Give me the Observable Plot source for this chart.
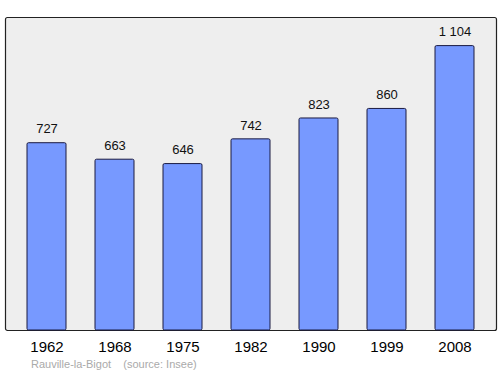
<!DOCTYPE html>
<html>
<head>
<meta charset="utf-8">
<script src="https://cdn.jsdelivr.net/npm/d3@7"></script>
<script src="https://cdn.jsdelivr.net/npm/@observablehq/plot@0.6"></script>
<style>
  html, body { margin: 0; padding: 0; background: #fff; }
  #chart { width: 500px; height: 374px; position: relative; font-family: "Liberation Sans", Arial, sans-serif; }
  #caption { position: absolute; left: 31px; top: 358px; font-size: 11px; color: #aaa; white-space: pre; }
</style>
</head>
<body>
<div id="chart"></div>
<script>
const years = ["1962", "1968", "1975", "1982", "1990", "1999", "2008"];
const population = [727, 663, 646, 742, 823, 860, 1104];
const caption = "Rauville-la-Bigot    (source: Insee)";

const data = years.map((y, i) => ({year: y, value: population[i]}));
const fmt = v => d3.format(",")(v).replace(/,/g, " ");

const plot = Plot.plot({
  width: 500,
  height: 356,
  marginTop: 17,
  marginBottom: 26,
  marginLeft: 5,
  marginRight: 4,
  style: {fontFamily: "Liberation Sans, Arial, sans-serif", background: "transparent", overflow: "visible"},
  x: {domain: years, paddingInner: 0.43, paddingOuter: 0.3, label: null},
  y: {domain: [0, 1215], axis: null},
  marks: [
    Plot.frame({fill: "#eeeeee", stroke: "#222", strokeWidth: 1.2, rx: 2}),
    Plot.barY(data, {x: "year", y: "value", fill: "#7799ff", stroke: "#1a1a40", strokeWidth: 1, rx: 1.5}),
    Plot.text(data, {x: "year", y: "value", text: d => fmt(d.value), dy: -14, fontSize: 13, fill: "#111"}),
    Plot.axisX({tickSize: 0, tickPadding: 11, fontSize: 15, color: "#000", label: null})
  ]
});
document.getElementById("chart").appendChild(plot);
const cap = document.createElement("div");
cap.id = "caption";
cap.textContent = caption;
document.getElementById("chart").appendChild(cap);
</script>
</body>
</html>
